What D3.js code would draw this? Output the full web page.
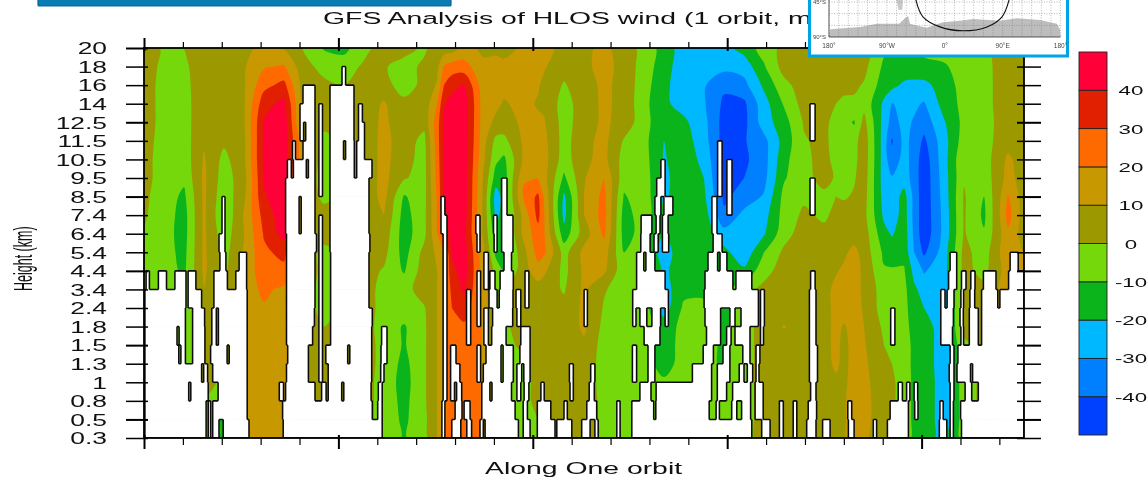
<!DOCTYPE html>
<html>
<head>
<meta charset="utf-8">
<script src="https://cdn.jsdelivr.net/npm/d3@7"></script>
<style>
html, body { margin: 0; padding: 0; background: #fff; overflow: hidden; }
svg { display: block; filter: blur(0.45px); }
text { font-family: "Liberation Sans", Arial, sans-serif; fill: #111; }
</style>
</head>
<body>
<script>
// height levels, top of the plot first
var levels = ['20','18','16','14','12.5','11.5','10.5','9.5','8.5','7.4','6.4','5.4','4.4','3.4','2.4','1.8','1.5','1.3','1','0.8','0.5','0.3'];
var colorLevels = [-40,-30,-20,-10,0,10,20,30,40];
var colorFills = ['#0040ff','#0080ff','#00b8ff','#0ab41a','#74d80a','#9c9800','#c89800','#ff6a00','#e02000','#ff0038'];

// where along the orbit each wind list below was read (44 = end of the orbit)
var samplePlaces = [0,1,2,3,4,5,6,7,8,9,10,11,12,13,14,14.65,15,15.4,16,17,17.6,18,19,19.7,20,21,22,23,24,25,26,27,28,29,30,31,32,33,34,34.6,35,35.5,36,37,37.4,38,38.5,39,40,41,42,43,43.2,44];

// wind (m/s), one list per sample along the orbit, 20 km down to 0.3 km
var windColumns = [
[4,4,4,4,4,4,3,3,2,1,-1,-3,-3,-3,-3,-3,-3,-3,-3,-3,-3,-3],
[-1,-2,-3,-3,-3,-4,-4,-4,-5,-5,-6,-6,-5,-5,-5,-5,-5,-5,-5,-5,-5,-5],
[0,-2,-3,-4,-4,-5,-6,-8,-12,-14,-14,-13,-12,-8,-6,-6,-6,-6,-6,-6,-6,-6],
[6,6,6,7,7,9,11,12,12,12,12,12,12,10,8,7,6,6,5,1,1,-1],
[5,5,5,5,4,2,-3,-5,-7,-9,-6,-4,-3,-3,-3,-3,-3,-3,-3,-13,-13,-13],
[8,9,9,9,9,8,8,6,8,11,10,11,13,15,15,15,15,15,15,15,15,15],
[12,19,27,36,41,42,42,41,39,34,31,28,26,22,19,17,16,15,15,15,15,15],
[9,21,33,43,46,46,46,46,46,46,44,33,27,18,15,15,15,15,15,15,15,15],
[-1,3,4,4,4,11,11,7,6,5,4,4,4,4,4,4,4,4,4,4,4,4],
[-11,-3,2,3,3,-3,-4,-4,-2,3,3,-2,-2,-3,-3,0,3,3,3,3,3,3],
[-14,-3,0,1,2,2,2,2,2,2,2,2,2,2,2,2,2,2,2,2,2,2],
[-2,1,3,5,5,4,4,4,4,4,4,4,4,4,4,4,4,4,4,4,4,4],
[3,1,4,11,12,13,13,13,13,10,6,3,-1,-3,-3,-4,-3,-3,-4,-4,-4,-4],
[4,-4,-5,3,4,5,4,1,-11,-14,-15,-14,-11,-4,-4,-11,-11,-13,-14,-13,-12,-11],
[-2,2,3,3,3,-3,-4,-4,-4,-3,-3,3,5,5,-1,-2,-2,-2,-2,-2,-3,-4],
[5,7,11,20,25,25,24,23,21,20,19,12,10,10,10,10,10,10,10,10,10,10],
[4,21,30,39,42,42,42,41,41,37,36,18,18,18,18,18,18,18,18,18,18,18],
[5,25,36,45,45,45,45,45,45,44,43,41,37,33,30,25,25,25,25,25,25,25],
[13,24,41,46,46,46,46,46,46,45,44,45,45,41.5,36,28,27,25,25,25,25,25],
[8,12,13,14,14,13,11,8,7,7,7,12,14,15,16,19,19,19,19,19,19,19],
[8,13,13,12,8,-3,-8,-15,-25,-23,-16,-13,-4,-4,-4,-4,-4,-4,-4,-4,-4,-4],
[6,13,13,9,6,-3,-12,-15,-16,-15,-14,-14,-11,0,2,-2,-4,-4,-4,-4,-4,-4],
[12,14,14,13,12,12,12,19,22,14,13,7,6,6,6,5,3,-3,-4,-4,-4,-4],
[13,13,11,9,12,13,14,20,32,33,26,24,16,5,6,6,6,6,4,4,0,-3],
[13,11,8,8,11,13,14,14,19,21,21,22,12,5,6,6,6,6,4,4,-1,-3],
[7,4,-1,-4,-4,-4,-5,-12,-22,-23,-16,-4,-3,-1,3,3,2,3,3,5,5,5],
[8,8,6,5,5,7,8,9,10,10,5,13,12,12,12,12,8,6,6,8,10,10],
[12,13,12,12,12,13,13,20,23,24,22,15,12,1,-1,-3,-4,-4,-4,-4,-4,-4],
[6,7,7,7,6,-1,-4,-6,-11,-14,-14,-10,-7,-5,-4,-4,-4,-4,-4,-3,-3,-3],
[-4,-5,-6,-7,-6,-7,-6,-4,-4,-5,-6,-9,-5,-5,-5,-5,-5,-5,-5,-5,-5,-5],
[-14,-15,-17,-18,-18,-20,-21,-23,-22,-18,-20,-25,-22,-24,-25,-15,-15,-15,-8,-8,-8,-8],
[-26,-27,-27,-24,-18,-15,-14,-13,-13,-13,-13,-13,-14,-13,-8,-7,-6,-5,-4,-4,-4,-4],
[-23,-25,-29,-29,-27,-26,-23,-20,-18,-15,-14,-13,-15,-12,-8,-8,-6,-6,-6,-6,-6,-6],
[-24,-27,-38,-42,-44,-44,-44,-44,-42,-38,-26,-17,-15,-12,-12,-12,-12,-12,-8,-5,-5,-5],
[-16,-26,-33,-42,-43,-41,-42,-40,-36,-27,-22,-27,-18,-5,-5,-5,-5,-5,-5,-5,-5,-5],
[-6,-11,-18,-24,-25,-33,-34,-33,-29,-24,-21,-10,-4,3,5,5,5,5,5,5,5,5],
[3,4,-3,-9,-14,-16,-13,-11,-7,-6,-4,2,5,5,5,10.5,5,5,5,5,5,5],
[4,8,5,4,1,-1,-2,-3,-2,2,5,5,5,6,6,6,6,6,6,6,6,6],
[6,9,5,3,3,3,3,3,-2,-2,3,6,6,6,6,6,6,6,6,6,6,6],
[6,8,5,0,-4,-5,-3,-1,0,3,5,6,9,13,13,13,13,12,8,6,6,6],
[12,6,4,-3,-6,-5,-7,-3,-1,4,5,8,12,14,15,9,7,7,8,9,9,9],
[6,4,2,-2,-11,-4,-3,-1,1,3,5,13,14,14,14,14,14,14,14,14,14,14],
[4,3,-1,-3,3,6,6,5,4,3,5,6,8,8,9,10,11,12,13,14,14,12],
[-8,-12,-15,-22,-24,-25,-25,-25,-24,-22,-17,-12,-9,-5,-5,-2,0,2,3,3,3,3],
[-10,-12,-17,-30.5,-34,-41,-37,-29,-27,-26,-21,-14,-9,-6,-6,-4,-2,0,2,2,2,2],
[-12,-13,-22,-27,-27,-27,-26,-25,-16,-15,-14,-13,-9,-7,-7,-7,-6,-6,-5,-5,-5,-5],
[-10,-13,-23,-28,-31,-33,-34,-34,-33,-33,-32,-30,-23,-18,-15,-13,-12,-12,-12,-12,-12,-12],
[-8,-12,-23,-31,-36,-42,-46,-47,-47,-47,-47,-42,-31,-24,-20,-15,-14,-13,-13,-13,-13,-14],
[-3,-12,-15,-16,-21,-24,-24,-25,-26,-27,-27,-25,-24,-25,-26,-26,-26,-27,-26,-26,-26,-25],
[-2,-3,-6,-7,-7,-5,-1,-1,1,1,1,3,3,2,3,3,-2,-5,-5,-5,-5,-5],
[-3,-3,-4,-4,-5,-5,-5,-6,-10,-12,-9,-5,-3,3,3,3,3,3,3,3,3,3],
[4,4,5,5,5,6,9,10,14,16,13,14,12,13,13,13,13,13,13,13,13,13],
[5,5,5,5,5,6,12,14,21,24,18,13,12,13,13,13,13,13,13,13,13,13],
[5,5,5,5,5,5,5,5,5,5,6,10,10,5,5,5,5,5,5,5,5,5]
];

// profiles with no data: [from, to] along the orbit, one list per layer between two levels
var missingRuns = [
[],
[[66,67.2]],
[[53,57],[62,70]],
[[52,57],[58.3,59.5],[62,70],[71.5,72.8],[222,223.7]],
[[52,53.2],[53.9,57],[58.3,59.5],[62,70],[71.5,73.5],[222,223.7]],
[[49.5,50.5],[53,57],[58.3,59.5],[62,66.5],[67.2,70.1],[70.9,73.5],[191.2,192.7]],
[[47.8,49.1],[49.8,54.1],[54.8,57],[58.3,59.5],[62,70.1],[70.9,76],[172.3,173.7],[191.2,192.7],[194.3,196]],
[[47.2,57],[58.3,59.5],[62,75],[119.2,121],[170.9,173.7],[191.2,192.7],[194.3,196],[222,223.7]],
[[26,27],[47.2,51.7],[52.4,57],[62,75],[99,100.3],[119.2,121],[170.3,172.3],[173.3,176.3],[189.3,191],[194.3,196],[222,223.7]],
[[26,27],[47.2,51.7],[52.4,57],[58.3,59.5],[62,75],[99,101],[110.6,112],[116.5,117.7],[119.2,123],[165.7,169.3],[170.7,172],[172.8,174.7],[189.3,191]],
[[25,27],[47.5,57.5],[58.3,59.5],[62,75.3],[99.7,101],[111,112],[116.7,117.7],[119.2,123],[165.6,168.7],[170,171.4],[172.8,174.9],[189.7,192.7]],
[[25.3,27.3],[31.7,34.2],[47.5,57],[58.3,59.5],[62.2,75],[99.7,101],[113.3,114.8],[120,122.5],[164.2,166.6],[167.3,170.3],[188,191.2],[192,194.3],[268.7,270.9],[288.7,291.4]],
[[0.7,1.8],[4.8,7.5],[10.3,14],[14.7,17.3],[23.3,27.8],[30.6,34.2],[47.5,57],[58.3,59.5],[62.2,75],[99.7,101],[111,112.2],[113.3,114.8],[115.3,117],[118.7,123.1],[127,128.3],[164.2,173.7],[187,196.3],[197.3,202.6],[222.2,223.7],[268.2,270.9],[272.5,274],[275.6,277],[279.8,284],[288.2,293.4]],
[[0.3,14],[14.7,19.2],[23.3,34.4],[47.5,57],[58.3,59.5],[62.2,75],[99.7,101],[107.5,108.9],[111,112.2],[115,117.7],[118.4,123],[124,125.6],[127,128.3],[146.7,147.8],[162.9,174.8],[186.7,204.8],[205.5,206.8],[221.8,224],[265.6,267],[267.7,270],[272.3,273.2],[275.3,276.9],[279.2,284.6],[285.3,293.4]],
[[0.3,13.8],[16.2,20.2],[22.6,24.1],[24.8,34.4],[47.5,56.8],[58.3,59.5],[62.2,76.1],[99.7,101],[107.5,108.9],[111,112.2],[113.3,114.8],[116.2,122.9],[124.3,125.6],[146.7,147.8],[162.9,164],[165.3,167.6],[169.3,172.2],[173.7,174.8],[187,192.2],[195.3,197],[199,204.8],[205.5,206.8],[221.8,224],[248.9,250.3],[265.6,269.8],[272,273.1],[275.1,278.1],[279.2,293.4]],
[[0.3,11],[11.7,13.8],[16.2,20.3],[22.6,24.1],[24.8,34.4],[47.5,56.2],[58.3,59.5],[62.2,75.9],[79.2,81],[99.7,101],[107.5,108.9],[113.3,114.8],[115.9,120.7],[125.6,128.7],[166.7,172],[187.5,192.2],[194.2,195.7],[197,202],[205.5,206.5],[221.8,224],[248.9,250.3],[265.6,269.5],[272.3,273.2],[275.1,278.1],[279.2,293.4]],
[[0.3,11.6],[12.3,13.8],[16.2,20.3],[22.2,27.7],[28.4,34.4],[47.9,54.8],[58.3,59.5],[60.6,67.9],[68.6,75.9],[79,81],[99.7,101],[102.2,104],[111,112.2],[114,119],[119.7,123.1],[125.3,128.7],[162.8,164.2],[168,170.3],[186.4,189.8],[193,195.3],[199.6,202],[204,205.3],[221.8,224.5],[268.7,270],[271.3,293.4]],
[[0.3,19.2],[19.9,21.2],[22.9,34.4],[47.5,54.8],[58.3,59.5],[61.4,75.9],[78.9,80],[99.7,101],[102.2,105.3],[111,112.2],[113.1,119],[119.7,123.1],[124.3,125.9],[126.6,128.7],[141.8,143.1],[148.9,150.3],[162.8,164.2],[168,170.3],[182.8,189.2],[191.1,195.3],[198.4,200],[201.1,202.9],[204,205],[221.8,224.5],[268.4,270],[271,275.5],[276.2,293.4]],
[[0.3,14.9],[15.6,21.4],[24.7,34.4],[45.1,46.5],[47.2,57],[59.2,60.7],[61.4,65.9],[66.6,75.7],[78.1,79.4],[99.7,101],[102.2,103.5],[104.2,105.9],[112.6,115.3],[116,122.5],[124.3,125.6],[126.7,128.3],[132.3,133.4],[142,143.1],[148.4,150.1],[165.3,169],[170.7,189.2],[191.1,194.2],[196.2,202.2],[203.7,206.4],[222.2,224],[251.4,252.8],[254.2,255.3],[256.7,257.9],[268.7,270],[273.7,275.9],[278.1,293.4]],
[[0.3,20.7],[21.4,22.2],[22.9,34.4],[46.2,76.1],[77.9,79.4],[99.3,100.3],[103.7,106],[106.7,108.7],[112.6,123.7],[126.4,127.8],[131.1,135.6],[140,141.1],[147.6,150.9],[157.6,158.7],[162.6,169.9],[170.6,188.4],[190.7,191.8],[195.9,197.6],[199.2,202.2],[203.7,206.4],[211.8,213.1],[216.4,217.6],[221.4,224.2],[234.6,235.9],[248.7,254.8],[256.9,258],[265.3,266.4],[268.7,269.8],[272.2,293.4]],
[[0.3,20.7],[21.4,22.2],[22.9,25],[26.4,35],[46.4,79.4],[99.3,100.3],[102.6,105.6],[107.6,109.2],[112,113.1],[113.7,124.8],[126.4,128.7],[131.1,137],[137.6,142.6],[145.9,148.7],[150.3,151.4],[157.6,158.7],[162.6,202.6],[205.9,208.7],[211.8,213.1],[216.4,217.6],[220.9,224],[226.2,228.7],[234.8,236.7],[243.1,244.2],[247.8,254.8],[265.1,267.6],[268.7,269.8],[272.5,293.4]]
];

// inset map: orbit track and Antarctica outline, [lon, lat]
var trackLon = [-45,-34,-7.5,28,65.6,89,100];
var trackLat = [-42,-64,-77,-82,-77,-64,-42];
var landLon = [-180,-178,-132,-105,-71,-62,-57,-54,-46,-28,-3,24,44,86,112,148,174,179,180];
var landLat = [-90,-80,-77,-73,-73,-66,-63,-73,-75,-78,-71,-69,-67,-69,-66,-68,-73,-80,-90];
var patchLon = [-75,-65,-66,-72];
var patchLat = [-42,-42,-55,-55];
var mapLonTicks = [[-180,'180°'],[-90,'90°W'],[0,'0°'],[90,'90°E'],[180,'180°']];
var mapLatTicks = [[-45,'45°S'],[-90,'90°S']];

var svg = d3.select('body').append('svg')
    .attr('width', 1148)
    .attr('height', 478);

var plotLeft = 144, plotRight = 1024, plotTop = 48, plotBottom = 438;
var nx = windColumns.length, ny = levels.length;

// scales
var xsample = d3.scaleLinear().domain(d3.range(nx)).range(samplePlaces);
var xgrid = d3.scaleLinear().domain([0, 44]).range([plotLeft, plotRight]);
var ygrid = d3.scaleLinear().domain([0, ny - 1]).range([plotTop, plotBottom]);
var xprofile = d3.scaleLinear().domain([0, 880 / 3]).range([plotLeft, plotRight]);
var yscale = d3.scalePoint().domain(levels).range([plotTop, plotBottom]);
var xticks = d3.scaleLinear().domain([0, 5]).range([plotLeft, plotLeft + 194.4]);

svg.append('clipPath').attr('id', 'plot').append('rect')
    .attr('x', plotLeft).attr('y', plotTop).attr('width', plotRight - plotLeft).attr('height', plotBottom - plotTop);

var field = svg.append('g').attr('clip-path', 'url(#plot)');
field.append('rect')
    .attr('x', plotLeft).attr('y', plotTop).attr('width', plotRight - plotLeft).attr('height', plotBottom - plotTop)
    .attr('fill', colorFills[0]);

// filled contours, lowest level first
var values = [];
for (var j = 0; j < ny; j++) {
    for (var i = 0; i < nx; i++) { values.push(windColumns[i][j]); }
}
var contours = d3.contours().size([nx, ny]).thresholds(colorLevels)(values);

// rings go through a closed curve so the bands look round
var smoothRing = d3.line().curve(d3.curveCatmullRomClosed.alpha(0.5));
function bandPath(d) {
    var out = '';
    d.coordinates.forEach(function (polygon) {
        polygon.forEach(function (ring) {
            var pts = ring.slice(0, -1).map(function (p) {
                return [xgrid(xsample(p[0] - 0.5)), ygrid(p[1] - 0.5)];
            });
            out += smoothRing(pts);
        });
    });
    return out;
}
field.selectAll('path.band')
    .data(contours)
    .enter().append('path')
    .attr('class', 'band')
    .attr('d', bandPath)
    .attr('fill-rule', 'evenodd')
    .attr('fill', function (d, i) { return colorFills[i + 1]; });

// no-data cells in white
missingRuns.forEach(function (runs, b) {
    field.selectAll(null)
        .data(runs)
        .enter().append('rect')
        .attr('x', function (d) { return xprofile(d[0]); })
        .attr('y', ygrid(b) - 0.3)
        .attr('width', function (d) { return xprofile(d[1]) - xprofile(d[0]); })
        .attr('height', ygrid(b + 1) - ygrid(b) + 0.6)
        .attr('fill', '#fff');
});

// parts of a run not covered by the layer next to it
function uncovered(run, others) {
    var parts = [run.slice()];
    others.forEach(function (o) {
        var next = [];
        parts.forEach(function (p) {
            if (o[1] <= p[0] || o[0] >= p[1]) { next.push(p); return; }
            if (o[0] > p[0]) { next.push([p[0], o[0]]); }
            if (o[1] < p[1]) { next.push([o[1], p[1]]); }
        });
        parts = next;
    });
    return parts;
}

// black outline round the no-data cells
var outline = d3.path();
missingRuns.forEach(function (runs, b) {
    var y0 = ygrid(b), y1 = ygrid(b + 1);
    runs.forEach(function (r) {
        outline.moveTo(xprofile(r[0]), y0); outline.lineTo(xprofile(r[0]), y1);
        outline.moveTo(xprofile(r[1]), y0); outline.lineTo(xprofile(r[1]), y1);
        uncovered(r, missingRuns[b - 1] || []).forEach(function (p) {
            outline.moveTo(xprofile(p[0]), y0); outline.lineTo(xprofile(p[1]), y0);
        });
        uncovered(r, missingRuns[b + 1] || []).forEach(function (p) {
            outline.moveTo(xprofile(p[0]), y1); outline.lineTo(xprofile(p[1]), y1);
        });
    });
});
field.append('path')
    .attr('d', outline.toString())
    .attr('fill', 'none')
    .attr('stroke', '#0c0c0c')
    .attr('stroke-width', 1.55);

// axes
var textStretch = 1.65;
var yaxis = d3.axisLeft(yscale).tickSize(0).tickPadding(0);
var gy = svg.append('g').attr('transform', 'translate(' + plotLeft + ',0)').call(yaxis);
gy.selectAll('.tick line')
    .attr('x1', 4).attr('x2', -18)
    .attr('stroke', '#000')
    .attr('stroke-width', function (d, i) { return i % 4 == 0 ? 2 : 1.5; });
gy.selectAll('.tick text')
    .attr('x', -37 / textStretch)
    .attr('dy', '0.36em')
    .attr('transform', 'scale(' + textStretch + ',1)')
    .attr('font-size', '16px');

var gyr = svg.append('g').attr('transform', 'translate(' + plotRight + ',0)')
    .call(d3.axisRight(yscale).tickSize(0).tickFormat(''));
gyr.selectAll('.tick line')
    .attr('x1', -7).attr('x2', 17)
    .attr('stroke', '#000')
    .attr('stroke-width', function (d, i) { return i % 4 == 0 ? 2 : 1.5; });

var xTickValues = d3.range(0, 23);
var gxb = svg.append('g').attr('transform', 'translate(0,' + plotBottom + ')')
    .call(d3.axisBottom(xticks).tickValues(xTickValues).tickSize(0).tickFormat(''));
gxb.selectAll('.tick line')
    .attr('y2', function (d, i) { return i % 5 == 0 ? 11 : 7; })
    .attr('y1', function (d, i) { return i % 5 == 0 ? -3 : 0; })
    .attr('stroke', '#000')
    .attr('stroke-width', function (d, i) { return i % 5 == 0 ? 2 : 1.2; });
var gxt = svg.append('g').attr('transform', 'translate(0,' + plotTop + ')')
    .call(d3.axisTop(xticks).tickValues(xTickValues).tickSize(0).tickFormat(''));
gxt.selectAll('.tick line')
    .attr('y2', function (d, i) { return i % 5 == 0 ? -10 : -6; })
    .attr('y1', function (d, i) { return i % 5 == 0 ? 3 : 0; })
    .attr('stroke', '#000')
    .attr('stroke-width', function (d, i) { return i % 5 == 0 ? 2 : 1.2; });
svg.selectAll('.domain').attr('stroke', 'none');

// frame
svg.append('rect')
    .attr('x', plotLeft).attr('y', plotTop).attr('width', plotRight - plotLeft).attr('height', plotBottom - plotTop)
    .attr('fill', 'none').attr('stroke', '#000').attr('stroke-width', 1.8);

// titles
svg.append('text')
    .attr('transform', 'translate(323,24) scale(1.67,1)')
    .attr('font-size', '17px')
    .text('GFS Analysis of HLOS wind (1 orbit, m/s)');
svg.append('text')
    .attr('transform', 'translate(485,474) scale(1.67,1)')
    .attr('font-size', '17px')
    .text('Along One orbit');
svg.append('text')
    .attr('transform', 'translate(32,291) scale(2.1,1) rotate(-90)')
    .attr('font-size', '12.5px')
    .text('Height (km)');

// colour bar
var cscale = d3.scaleLinear().domain([-50, 50]).range([435, 52]);
var cedges = [-50].concat(colorLevels).concat([50]);
svg.selectAll('rect.key')
    .data(colorFills)
    .enter().append('rect')
    .attr('class', 'key')
    .attr('x', 1079)
    .attr('y', function (d, i) { return cscale(cedges[i + 1]); })
    .attr('width', 28)
    .attr('height', function (d, i) { return cscale(cedges[i]) - cscale(cedges[i + 1]); })
    .attr('fill', function (d) { return d; })
    .attr('stroke', '#222')
    .attr('stroke-width', 0.9);
svg.selectAll('text.key')
    .data(colorLevels)
    .enter().append('text')
    .attr('class', 'key')
    .attr('text-anchor', 'middle')
    .attr('font-size', '13.5px')
    .attr('transform', function (d) { return 'translate(1131,' + (cscale(d) + 5) + ') scale(1.65,1)'; })
    .text(function (d) { return d; });

// banner above the plot
svg.append('rect')
    .attr('x', 38).attr('y', -4).attr('width', 413).attr('height', 10).attr('rx', 1)
    .attr('fill', '#0a7cb4').attr('stroke', '#06669a').attr('stroke-width', 1.2);

// inset orbit map
var inset = svg.append('g');
inset.append('rect')
    .attr('x', 809.5).attr('y', -4).attr('width', 258).attr('height', 60)
    .attr('fill', '#fff').attr('stroke', '#00a4e4').attr('stroke-width', 3);
var lon = d3.scaleLinear().domain([-180, 180]).range([829, 1060.6]);
var lat = d3.scaleLinear().domain([-90, -45]).range([37, 2]);
var ring = d3.line()
    .x(function (d) { return lon(d[0]); })
    .y(function (d) { return lat(d[1]); });
inset.append('path')
    .attr('d', ring(d3.zip(landLon, landLat)) + 'Z')
    .attr('fill', '#bdbdbd');
inset.append('path')
    .attr('d', ring(d3.zip(patchLon, patchLat)) + 'Z')
    .attr('fill', '#c8c8c8');
inset.selectAll('line.mer')
    .data(d3.range(-180, 181, 15))
    .enter().append('line')
    .attr('class', 'mer')
    .attr('x1', lon).attr('x2', lon)
    .attr('y1', 0).attr('y2', 37)
    .attr('stroke', '#777').attr('stroke-width', 0.5).attr('stroke-dasharray', '1,1.5');
inset.selectAll('line.par')
    .data([-45, -60, -75])
    .enter().append('line')
    .attr('class', 'par')
    .attr('x1', 829).attr('x2', 1060.6)
    .attr('y1', lat).attr('y2', lat)
    .attr('stroke', '#777').attr('stroke-width', 0.5).attr('stroke-dasharray', '1,1.5');
inset.append('path')
    .attr('d', d3.line().curve(d3.curveCatmullRom)
        .x(function (d) { return lon(d[0]); })
        .y(function (d) { return lat(d[1]); })(d3.zip(trackLon, trackLat)))
    .attr('fill', 'none').attr('stroke', '#111').attr('stroke-width', 1.1);
inset.append('path')
    .attr('d', 'M' + lon(-180) + ',0V' + lat(-90) + 'H' + lon(180))
    .attr('fill', 'none').attr('stroke', '#333').attr('stroke-width', 0.8);
inset.selectAll('text.lon')
    .data(mapLonTicks)
    .enter().append('text')
    .attr('class', 'lon')
    .attr('x', function (d) { return lon(d[0]); })
    .attr('y', 48)
    .attr('text-anchor', 'middle')
    .attr('font-size', '6.5px')
    .style('fill', '#444')
    .text(function (d) { return d[1]; });
inset.selectAll('text.lat')
    .data(mapLatTicks)
    .enter().append('text')
    .attr('class', 'lat')
    .attr('x', 826)
    .attr('y', function (d) { return lat(d[0]) + 2; })
    .attr('text-anchor', 'end')
    .attr('font-size', '6px')
    .style('fill', '#444')
    .text(function (d) { return d[1]; });
</script>
</body>
</html>
